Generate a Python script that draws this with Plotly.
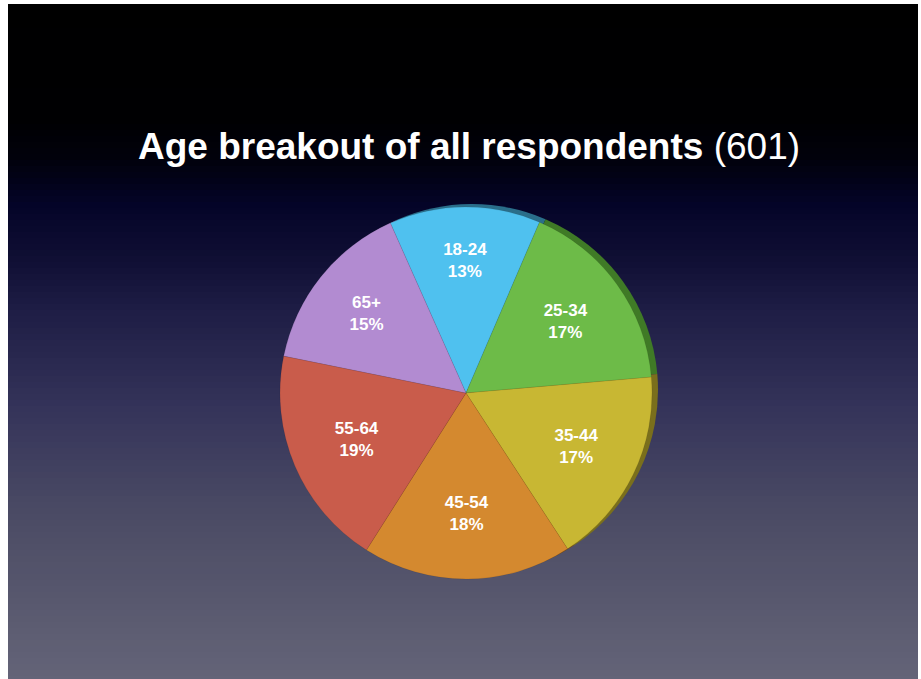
import plotly.graph_objects as go

# Age groups and their share of the 601 respondents (percent)
age_groups = ["18-24", "25-34", "35-44", "45-54", "55-64", "65+"]
shares = [13, 17, 17, 18, 19, 15]
slice_colors = ["#4fc1ef", "#6dbb48", "#c8b733", "#d4892f", "#c95c4b", "#b28bd1"]
rim_colors = ["#2a6e8a", "#3f7a26", "#7a6f1c", "#7a4f1a", "#74342b", "#66507a"]

title_main = "Age breakout of all respondents"
title_count = "(601)"

W, H = 921, 679

# Vertical background gradient stops: (y in px from top, colour)
grad_stops = [
    (0, (0, 0, 0)),
    (120, (0, 0, 2)),
    (160, (1, 1, 12)),
    (205, (4, 4, 40)),
    (260, (16, 15, 52)),
    (310, (30, 29, 69)),
    (410, (53, 52, 90)),
    (510, (74, 74, 100)),
    (600, (88, 88, 110)),
    (679, (100, 100, 120)),
]


def colour_at(y):
    for (y0, c0), (y1, c1) in zip(grad_stops, grad_stops[1:]):
        if y0 <= y <= y1:
            t = (y - y0) / (y1 - y0) if y1 > y0 else 0
            return tuple(round(a + (b - a) * t) for a, b in zip(c0, c1))
    return grad_stops[-1][1]


left, right, top = 8, 918, 4
shapes = []
band = 6
y = top
while y < H:
    y2 = min(y + band, H)
    r, g, b = colour_at((y + y2) / 2)
    shapes.append(dict(
        type="rect", xref="paper", yref="paper", layer="below",
        x0=left / W, x1=right / W, y0=1 - y2 / H, y1=1 - y / H,
        fillcolor=f"rgb({r},{g},{b})", line=dict(width=0),
    ))
    y = y2

cx, cy, rad = 466, 393, 186


def domain(dx=0, dy=0):
    return dict(
        x=[(cx + dx - rad) / W, (cx + dx + rad) / W],
        y=[1 - (cy + dy + rad) / H, 1 - (cy + dy - rad) / H],
    )


fig = go.Figure()

# darker copy behind the pie gives the raised rim on the upper right
fig.add_trace(go.Pie(
    labels=age_groups, values=shares, sort=False, direction="clockwise",
    rotation=-24, domain=domain(6, -3), textinfo="none", hoverinfo="skip",
    marker=dict(colors=rim_colors, line=dict(width=0)), showlegend=False,
))

fig.add_trace(go.Pie(
    labels=age_groups, values=shares, sort=False, direction="clockwise",
    rotation=-24, domain=domain(),
    texttemplate="<b>%{label}</b><br><b>%{value}%</b>", textposition="inside",
    insidetextorientation="horizontal",
    textfont=dict(family="Liberation Sans, Arial, sans-serif", size=17, color="white"),
    marker=dict(colors=slice_colors, line=dict(width=0.5, color="rgba(0,0,0,0.15)")),
    showlegend=False,
))

fig.add_annotation(
    x=469 / W, y=1 - 146 / H, xref="paper", yref="paper",
    text=f"<b>{title_main}</b> {title_count}", showarrow=False,
    font=dict(family="Liberation Sans, Arial, sans-serif", size=37, color="white"),
    xanchor="center", yanchor="middle",
)

fig.update_layout(
    width=W, height=H, margin=dict(l=0, r=0, t=0, b=0),
    paper_bgcolor="white", plot_bgcolor="white", shapes=shapes,
)

fig.write_html("out.html")
